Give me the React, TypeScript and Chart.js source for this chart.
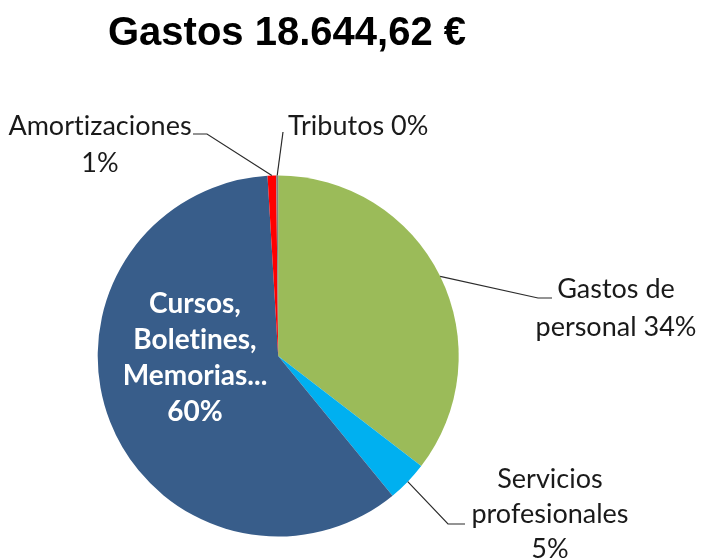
import React, { useEffect, useRef } from "react";
import { Chart, registerables } from "chart.js";

Chart.register(...registerables);

// ---- data ----
const titleText = "Gastos 18.644,62 €";
const categories = [
  "Gastos de personal",
  "Servicios profesionales",
  "Cursos, Boletines, Memorias...",
  "Amortizaciones",
  "Tributos",
];
const values = [6608, 678, 11182.62, 143, 33];
const percentLabels = ["34%", "5%", "60%", "1%", "0%"];
const labelLines = [
  ["Gastos de", "personal 34%"],
  ["Servicios", "profesionales", "5%"],
  ["Cursos,", "Boletines,", "Memorias...", "60%"],
  ["Amortizaciones", "1%"],
  ["Tributos 0%"],
];
const colors = ["#9BBB59", "#00B0F0", "#385D8A", "#FF0000", "#7F7F7F"];

// ---- label layout (positions of the annotation texts / leader elbows) ----
type LabelCfg = {
  x: number;
  y: number;
  lh: number;
  align: CanvasTextAlign;
  bold?: boolean;
  color: string;
  leader?: [number, number][];
};
const labelLayout: LabelCfg[] = [
  { x: 616, y: 298, lh: 38, align: "center", color: "#1a1a1a", leader: [[538, 298], [552, 298]] },
  { x: 550, y: 488, lh: 35, align: "center", color: "#1a1a1a", leader: [[448, 524], [465, 524]] },
  { x: 195, y: 313, lh: 36, align: "center", bold: true, color: "#ffffff" },
  { x: 100, y: 135, lh: 37, align: "center", color: "#1a1a1a", leader: [[207, 134], [193, 134]] },
  { x: 288, y: 135, lh: 36, align: "left", color: "#1a1a1a", leader: [[283, 132]] },
];

const labelPlugin = {
  id: "pieLabels",
  afterDraw(chart: any) {
    const ctx: CanvasRenderingContext2D = chart.ctx;
    // title
    ctx.save();
    ctx.font = "bold 40px 'Liberation Sans', Arial, sans-serif";
    ctx.fillStyle = "#000000";
    ctx.textAlign = "center";
    ctx.textBaseline = "alphabetic";
    ctx.fillText(titleText, 287, 45);
    ctx.restore();

    const meta = chart.getDatasetMeta(0);
    meta.data.forEach((arc: any, i: number) => {
      const cfg = labelLayout[i];
      const lines = labelLines[i];
      if (!cfg || !lines) return;
      const p = arc.getProps(["x", "y", "startAngle", "endAngle", "outerRadius"], true);
      const mid = (p.startAngle + p.endAngle) / 2;
      ctx.save();
      if (cfg.leader) {
        const ex = p.x + Math.cos(mid) * p.outerRadius;
        const ey = p.y + Math.sin(mid) * p.outerRadius;
        ctx.beginPath();
        ctx.moveTo(ex, ey);
        cfg.leader.forEach(([lx, ly]) => ctx.lineTo(lx, ly));
        ctx.strokeStyle = "#2b2b2b";
        ctx.lineWidth = 1.2;
        ctx.stroke();
      }
      ctx.font = (cfg.bold ? "bold 28px " : "27px ") + "Lato, 'Noto Sans', sans-serif";
      // a tiny letter spacing disables the "ti" ligature of Lato
      (ctx as any).letterSpacing = "0.01px";
      ctx.fillStyle = cfg.color;
      ctx.textAlign = cfg.align;
      ctx.textBaseline = "alphabetic";
      lines.forEach((t, k) => ctx.fillText(t, cfg.x, cfg.y + k * cfg.lh));
      ctx.restore();
    });
  },
};

export default function App() {
  const ref = useRef<HTMLCanvasElement | null>(null);
  useEffect(() => {
    if (!ref.current) return;
    const chart = new Chart(ref.current, {
      type: "pie",
      data: {
        labels: categories,
        datasets: [
          {
            data: values,
            backgroundColor: colors,
            borderWidth: 0,
          },
        ],
      },
      options: {
        responsive: false,
        animation: false,
        rotation: 0,
        layout: {
          padding: { left: 97.7, right: 242.3, top: 175.5, bottom: 23.5 },
        },
        plugins: {
          legend: { display: false },
          title: { display: false },
          tooltip: { enabled: false },
        },
      },
      plugins: [labelPlugin],
    });
    return () => chart.destroy();
  }, []);
  return (
    <div
      style={{
        position: "fixed",
        left: 0,
        top: 0,
        width: 701,
        height: 560,
        background: "#ffffff",
      }}
    >
      <canvas ref={ref} width={701} height={560} style={{ display: "block" }} />
    </div>
  );
}
